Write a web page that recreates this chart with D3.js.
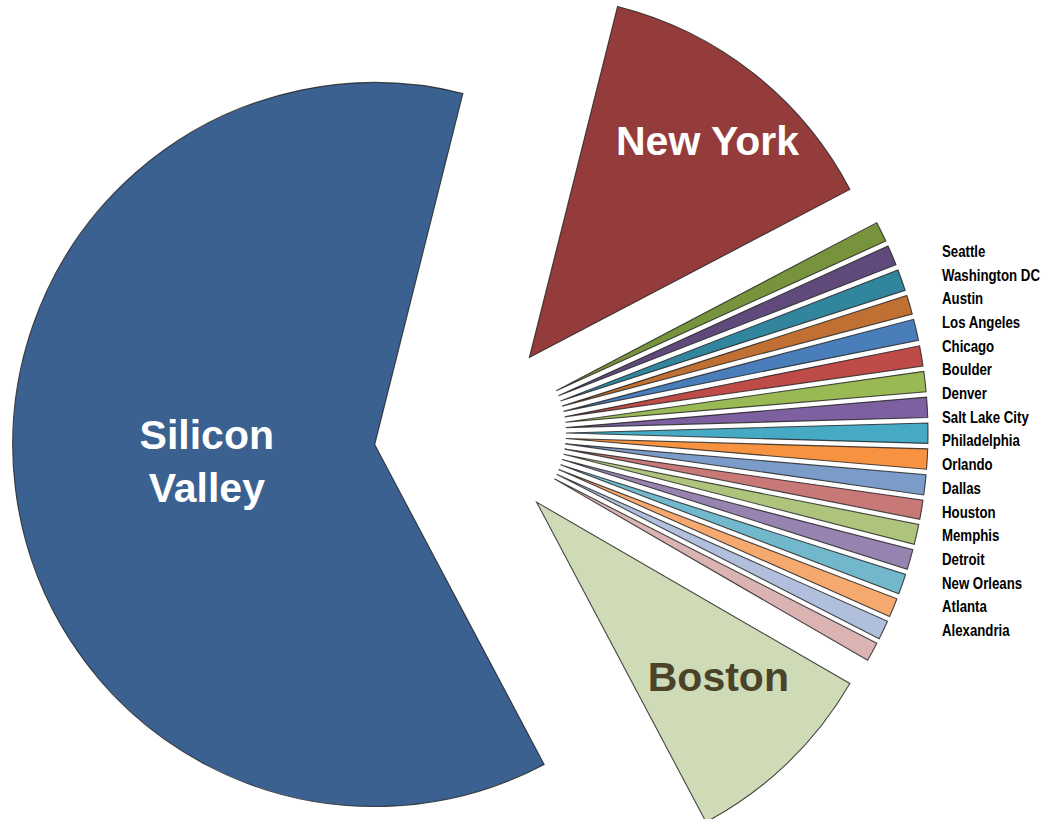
<!DOCTYPE html>
<html>
<head>
<meta charset="utf-8">
<script src="https://cdn.jsdelivr.net/npm/d3@7"></script>
<style>
  body { margin: 0; background: #fff; }
  svg { display: block; }
</style>
</head>
<body>
<svg id="chart" width="1045" height="819"></svg>
<script>
// DATA (share of companies, %), clockwise from New York
var cities = ["New York", "Seattle", "Washington DC", "Austin", "Los Angeles", "Chicago",
    "Boulder", "Denver", "Salt Lake City", "Philadelphia", "Orlando", "Dallas", "Houston",
    "Memphis", "Detroit", "New Orleans", "Atlanta", "Alexandria", "", "Boston", "Silicon Valley"];
var shares = [13.4, 0.9, 0.9, 0.95, 0.85, 0.95,
    0.9, 0.9, 0.9, 0.9, 0.9, 0.9, 0.85,
    0.9, 0.9, 0.9, 0.85, 0.85, 0.85, 8.9, 61.7];
var colors = ["#943c3b", "#77933c", "#604a7b", "#31859c", "#c07032", "#4a7ebb",
    "#be4b48", "#98b954", "#7d60a0", "#46aac5", "#f69240", "#7b9bc9", "#c77877",
    "#aec47c", "#9683b0", "#72b8cc", "#f6a96f", "#b0bfdc", "#dcb3b3", "#cedbb6", "#3b6191"];
var bigLabels = ["New York", "Boston", "Silicon Valley"];

// Layout
var svg = d3.select("#chart");
var cx = 470, cy = 433; // pie center
var radius = 362;
var explode = 96; // every slice pushed out along its bisector
var startDeg = 14.1;

var data = cities.map(function (c, i) { return { city: c, value: shares[i], color: colors[i] }; });

var pie = d3.pie()
    .sort(null)
    .value(function (d) { return d.value; })
    .startAngle(startDeg * Math.PI / 180)
    .endAngle(startDeg * Math.PI / 180 + 2 * Math.PI);

var arc = d3.arc().innerRadius(0).outerRadius(radius);
var arcs = pie(data);

function offset(a) {
    var m = (a.startAngle + a.endAngle) / 2;
    return [Math.sin(m) * explode, -Math.cos(m) * explode];
}

var g = svg.append("g").attr("transform", "translate(" + cx + "," + cy + ")");

var slices = g.selectAll("g.slice")
    .data(arcs)
    .enter().append("g")
    .attr("class", "slice")
    .attr("transform", function (d) { var o = offset(d); return "translate(" + o[0] + "," + o[1] + ")"; });

slices.append("path")
    .attr("d", arc)
    .attr("fill", function (d) { return d.data.color; })
    .attr("stroke", "#1e1e1e")
    .attr("stroke-width", 1.1)
    .attr("stroke-opacity", 0.8);

// big slice labels: fraction of radius + small nudge
var labelFrac = { "New York": 0.78, "Boston": 0.70, "Silicon Valley": 0.47 };
var labelNudge = { "New York": [3.5, 4.5], "Boston": [6, -9], "Silicon Valley": [1, -4.5] };
var labelColor = { "New York": "#ffffff", "Boston": "#4a4229", "Silicon Valley": "#ffffff" };

slices.filter(function (d) { return bigLabels.includes(d.data.city); })
    .each(function (d) {
        var m = (d.startAngle + d.endAngle) / 2;
        var rr = radius * labelFrac[d.data.city];
        var x = Math.sin(m) * rr + labelNudge[d.data.city][0],
            y = -Math.cos(m) * rr + labelNudge[d.data.city][1];
        var words = d.data.city == "Silicon Valley" ? ["Silicon", "Valley"] : [d.data.city];
        var t = d3.select(this).append("text")
            .attr("text-anchor", "middle")
            .attr("font-family", "'Liberation Sans', Arial, sans-serif")
            .attr("font-weight", "bold")
            .attr("font-size", 41)
            .attr("fill", labelColor[d.data.city]);
        words.forEach(function (w, i) {
            t.append("tspan")
                .attr("x", x)
                .attr("y", y + 15 + (i - (words.length - 1) / 2) * 53)
                .text(w);
        });
    });

// legend list on the right (narrow bold text -> squeeze horizontally)
var small = cities.slice(1, 18);
var ly = d3.scalePoint().domain(small).range([257, 636]);
var squeeze = 0.77;

svg.append("g")
    .attr("transform", "translate(942,0) scale(" + squeeze + ",1)")
    .selectAll("text")
    .data(small)
    .enter().append("text")
    .attr("x", 0)
    .attr("y", function (d) { return ly(d); })
    .attr("font-family", "'Liberation Sans', Arial, sans-serif")
    .attr("font-weight", "bold")
    .attr("font-size", 17.2)
    .attr("fill", "#000")
    .text(function (d) { return d; });
</script>
</body>
</html>
